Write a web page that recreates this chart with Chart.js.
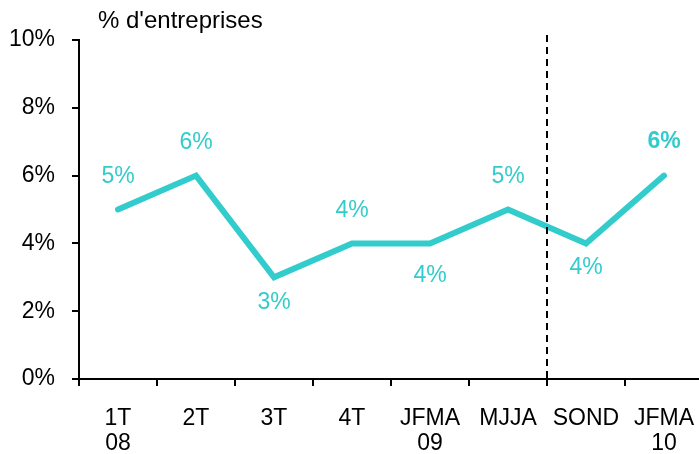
<!DOCTYPE html>
<html>
<head>
<meta charset="utf-8">
<script src="https://cdn.jsdelivr.net/npm/chart.js@4"></script>
<style>
  html, body { margin: 0; padding: 0; background: #fff; overflow: hidden; }
  #wrap { width: 703px; height: 454px; position: relative; }
</style>
</head>
<body>
<div id="wrap"><canvas id="chart"></canvas></div>
<script>
  // categories, series, axis ticks
  const categories = [['1T', '08'], '2T', '3T', '4T', ['JFMA', '09'], 'MJJA', 'SOND', ['JFMA', '10']];
  const values = [5, 6, 3, 4, 4, 5, 4, 6];
  const yTicks = [0, 2, 4, 6, 8, 10];
  const splitAfter = 5; // dashed separator between MJJA and SOND
  const unitLabel = "% d'entreprises";

  const TEAL = '#33CCCC';
  const FONT = "'Liberation Sans', Arial, sans-serif";
  // vertical offset of each value label from its point (px)
  const labelDy = [-33, -33, 25, -33, 32, -33, 24, -34];

  const overlay = {
    id: 'overlay',
    afterDatasetsDraw(chart) {
      const ctx = chart.ctx;
      const x = chart.scales.x;
      const y = chart.scales.y;

      // dashed vertical separator
      const xs = (x.getPixelForValue(splitAfter) + x.getPixelForValue(splitAfter + 1)) / 2;
      ctx.save();
      ctx.strokeStyle = '#000';
      ctx.lineWidth = 2;
      ctx.setLineDash([7, 5]);
      ctx.beginPath();
      ctx.moveTo(xs, 35);
      ctx.lineTo(xs, y.bottom);
      ctx.stroke();
      ctx.restore();

      // point labels
      const meta = chart.getDatasetMeta(0);
      ctx.save();
      ctx.fillStyle = TEAL;
      ctx.textAlign = 'center';
      ctx.textBaseline = 'middle';
      meta.data.forEach((pt, i) => {
        const last = i === values.length - 1;
        ctx.font = (last ? 'bold ' : '') + '23px ' + FONT;
        ctx.fillText(values[i] + '%', pt.x, pt.y + labelDy[i]);
      });
      ctx.restore();

      // unit label
      ctx.save();
      ctx.fillStyle = '#000';
      ctx.font = '24px ' + FONT;
      ctx.textAlign = 'left';
      ctx.textBaseline = 'middle';
      ctx.fillText(unitLabel, 98, 21);
      ctx.restore();
    }
  };

  new Chart(document.getElementById('chart'), {
    type: 'line',
    data: {
      labels: categories,
      datasets: [{
        data: values,
        borderColor: TEAL,
        borderWidth: 6,
        borderJoinStyle: 'miter',
        borderCapStyle: 'round',
        pointRadius: 0,
        tension: 0,
        fill: false,
      }],
    },
    options: {
      responsive: true,
      maintainAspectRatio: false,
      animation: false,
      layout: { padding: { top: 40, left: 0, right: 0, bottom: 0 } },
      plugins: {
        legend: { display: false },
        tooltip: { enabled: false },
      },
      scales: {
        x: {
          offset: true,
          grid: {
            offset: true,
            drawOnChartArea: false,
            drawTicks: true,
            tickLength: 7,
            color: '#000',
            lineWidth: 2,
          },
          border: { color: '#000', width: 2 },
          ticks: {
            color: '#000',
            font: { family: FONT, size: 23, lineHeight: 1.1 },
            padding: 20,
            maxRotation: 0,
            autoSkip: false,
          },
          afterFit(scale) {
            scale.height = 75;
            scale.paddingLeft = 0;
            scale.paddingRight = 0;
          },
        },
        y: {
          min: 0,
          max: 10,
          afterBuildTicks(scale) { scale.ticks = yTicks.map(v => ({ value: v })); },
          grid: {
            drawOnChartArea: false,
            drawTicks: true,
            tickLength: 7,
            color: '#000',
            lineWidth: 2,
          },
          border: { color: '#000', width: 2 },
          ticks: {
            color: '#000',
            font: { family: FONT, size: 23 },
            padding: 17,
            callback: (v) => v + '%',
          },
          afterFit(scale) {
            scale.width = 79;
            scale.paddingTop = 0;
            scale.paddingBottom = 0;
          },
        },
      },
    },
    plugins: [overlay],
  });
</script>
</body>
</html>
